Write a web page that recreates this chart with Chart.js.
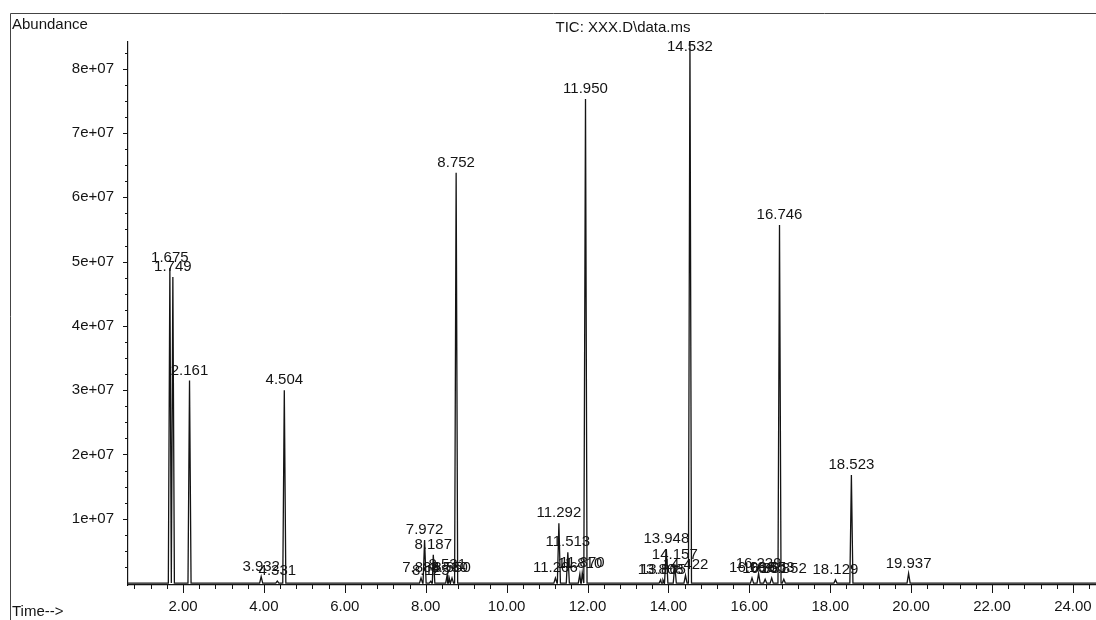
<!DOCTYPE html>
<html>
<head>
<meta charset="utf-8">
<script src="https://cdn.jsdelivr.net/npm/chart.js@4.4.1/dist/chart.umd.min.js"></script>
<style>
  html, body { margin: 0; background: #fff; }
  canvas { display: block; }
</style>
</head>
<body>
<canvas id="tic" width="1096" height="620"></canvas>
<script>
// retention times (min) and apex abundance
const peakTimes = [
  1.675, 1.749, 2.161, 3.932, 4.331, 4.504,
  7.884, 7.972, 8.125, 8.187, 8.531, 8.580, 8.650, 8.752,
  11.206, 11.292, 11.513, 11.810, 11.870, 11.950,
  13.808, 13.865, 13.948, 14.157, 14.422, 14.532,
  16.066, 16.229, 16.391, 16.553, 16.746, 16.852,
  18.129, 18.523, 19.937
];
const peakHeights = [
  4.90e7, 4.76e7, 3.15e7, 0.10e7, 0.03e7, 3.00e7,
  0.08e7, 0.67e7, 0.03e7, 0.44e7, 0.13e7, 0.08e7, 0.08e7, 6.38e7,
  0.08e7, 0.93e7, 0.48e7, 0.14e7, 0.16e7, 7.53e7,
  0.05e7, 0.05e7, 0.53e7, 0.28e7, 0.12e7, 8.45e7,
  0.08e7, 0.15e7, 0.06e7, 0.08e7, 5.57e7, 0.06e7,
  0.05e7, 1.68e7, 0.15e7
];
const xTicks = [2, 4, 6, 8, 10, 12, 14, 16, 18, 20, 22, 24];
const yTicks = [1e7, 2e7, 3e7, 4e7, 5e7, 6e7, 7e7, 8e7];

const X_MIN = 0.64, X_MAX = 24.57;
const Y_MIN = -3e5, Y_MAX = 8.415e7;
const HALF_W = 0.038;      // peak half width at base, min
const FONT = "'Liberation Sans', Arial, sans-serif";
const INK = "#141414";

// build the trace: baseline, then each peak up and down
const trace = [{ x: X_MIN, y: 0 }];
peakTimes.forEach((t, i) => {
  trace.push({ x: t - HALF_W, y: 0 });
  trace.push({ x: t, y: peakHeights[i] });
  trace.push({ x: t + HALF_W, y: 0 });
});
trace.push({ x: X_MAX, y: 0 });
trace.sort((a, b) => a.x - b.x);

const framePlugin = {
  id: "frame",
  beforeDraw(chart) {
    const c = chart.ctx;
    c.save();
    c.fillStyle = "#fff";
    c.fillRect(0, 0, chart.width, chart.height);
    c.strokeStyle = "#444";
    c.lineWidth = 1;
    c.beginPath();
    c.moveTo(10.5, chart.height);
    c.lineTo(10.5, 13.5);
    c.lineTo(chart.width, 13.5);
    c.stroke();
    c.fillStyle = INK;
    c.font = "15px " + FONT;
    c.textBaseline = "middle";
    c.textAlign = "left";
    c.fillText("Abundance", 12, 25);
    c.fillText("Time-->", 12, 612);
    c.textAlign = "center";
    c.fillText("TIC: XXX.D\\data.ms", 623, 28);
    c.restore();
  },
  afterDraw(chart) {
    const c = chart.ctx;
    const xs = chart.scales.x, ys = chart.scales.y;
    const a = chart.chartArea;
    c.save();
    c.strokeStyle = INK;
    c.lineWidth = 1;
    c.beginPath();
    // x ticks: major every 2 min, minor every 0.4
    for (let k = 2; k <= 61; k++) {
      const v = k * 0.4;
      if (v < X_MIN || v > X_MAX) continue;
      const px = Math.round(xs.getPixelForValue(v)) + 0.5;
      const major = k % 5 === 0;
      c.moveTo(px, a.bottom);
      c.lineTo(px, a.bottom + (major ? 8 : 4));
    }
    // y ticks: major every 1e7, minor every 2.5e6
    for (let k = 1; k <= 33; k++) {
      const v = k * 2.5e6;
      if (v > Y_MAX) continue;
      const py = Math.round(ys.getPixelForValue(v)) + 0.5;
      c.moveTo(a.left, py);
      c.lineTo(a.left - (k % 4 === 0 ? 5 : 3), py);
    }
    c.stroke();
    c.restore();
  },
  afterDatasetsDraw(chart) {
    const c = chart.ctx;
    const xs = chart.scales.x, ys = chart.scales.y;
    const a = chart.chartArea;
    c.save();
    c.fillStyle = INK;
    c.font = "15px " + FONT;
    c.textAlign = "center";
    c.textBaseline = "middle";
    peakTimes.forEach((t, i) => {
      const px = xs.getPixelForValue(t);
      const py = Math.max(ys.getPixelForValue(peakHeights[i]) - 10, a.top + 5);
      c.fillText(t.toFixed(3), px, py);
    });
    c.restore();
  }
};

new Chart(document.getElementById("tic"), {
  type: "line",
  data: {
    datasets: [{
      data: trace,
      borderColor: INK,
      borderWidth: 1.3,
      pointRadius: 0,
      tension: 0,
      fill: false
    }]
  },
  options: {
    responsive: false,
    animation: false,
    parsing: false,
    layout: { padding: { top: 42, left: 0, right: 0, bottom: 0 } },
    plugins: { legend: { display: false }, tooltip: { enabled: false } },
    scales: {
      x: {
        type: "linear",
        min: X_MIN,
        max: X_MAX,
        grid: { display: false },
        border: { display: true, color: INK, width: 1.2 },
        afterBuildTicks: (s) => { s.ticks = xTicks.map((v) => ({ value: v })); },
        afterFit: (s) => { s.height = 35; s.paddingLeft = 0; s.paddingRight = 0; },
        ticks: {
          autoSkip: false,
          maxRotation: 0,
          padding: 5,
          color: INK,
          font: { size: 15, family: FONT },
          callback: (v) => Number(v).toFixed(2)
        }
      },
      y: {
        type: "linear",
        min: Y_MIN,
        max: Y_MAX,
        grid: { display: false },
        border: { display: true, color: INK, width: 1.2 },
        afterBuildTicks: (s) => { s.ticks = yTicks.map((v) => ({ value: v })); },
        afterFit: (s) => { s.width = 128; },
        ticks: {
          padding: 6,
          color: INK,
          font: { size: 15, family: FONT },
          callback: (v) => (v / 1e7) + "e+07"
        }
      }
    }
  },
  plugins: [framePlugin]
});
</script>
</body>
</html>
